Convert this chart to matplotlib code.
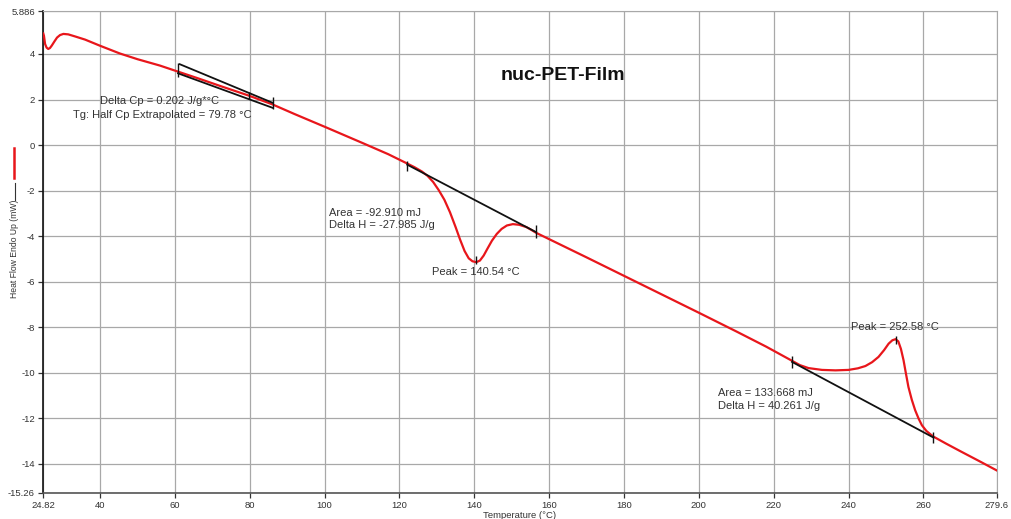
import matplotlib.pyplot as plt
from matplotlib.lines import Line2D

plt.rcParams['font.family'] = ['Liberation Sans', 'DejaVu Sans']

# DSC heating scan, nucleated PET film
temperature = [24.82, 25.0, 25.3, 25.7, 26.15, 26.6, 27.1, 27.8, 28.5, 29.3, 30.2,
               31.5, 33.5, 36, 40, 45.3, 50, 56, 60.9, 66, 72, 79.78, 86, 92,
               100.5, 110, 117, 121.7, 124, 126, 127.5, 129, 130.5, 132, 133.5,
               135, 136.2, 137.4, 138.5, 139.5, 140.54, 141.5, 142.5, 143.5,
               144.7, 146, 147.3, 148.7, 150.3, 152, 153.9, 155.2, 156.5, 160,
               170, 180, 190, 200, 210, 218, 224.9, 227, 229.3, 232.9, 236.5,
               240, 242.5, 244.5, 246.3, 248, 249.5, 250.7, 251.7, 252.58, 253.3,
               254, 254.7, 255.3, 256, 256.9, 257.8, 258.7, 259.6, 260.8, 262.2,
               262.7, 266, 270, 275, 279.57]
heat_flow = [4.90, 4.80, 4.44, 4.28, 4.22, 4.26, 4.37, 4.55, 4.72, 4.83, 4.88,
             4.86, 4.76, 4.63, 4.36, 4.02, 3.77, 3.49, 3.22, 2.94, 2.60, 2.17,
             1.79, 1.36, 0.77, 0.10, -0.40, -0.78, -0.97, -1.16, -1.35, -1.62,
             -1.98, -2.40, -2.95, -3.60, -4.15, -4.65, -4.97, -5.10, -5.14,
             -5.07, -4.85, -4.55, -4.20, -3.90, -3.68, -3.53, -3.47, -3.50,
             -3.60, -3.72, -3.85, -4.13, -4.93, -5.74, -6.55, -7.36, -8.18,
             -8.85, -9.47, -9.66, -9.79, -9.87, -9.89, -9.87, -9.80, -9.70,
             -9.53, -9.30, -9.00, -8.72, -8.57, -8.52, -8.62, -8.95, -9.45,
             -10.0, -10.62, -11.18, -11.64, -12.0, -12.3, -12.55, -12.74,
             -12.80, -13.10, -13.45, -13.88, -14.28]

# glass transition tangents and peak baselines
tg_upper_x = [61.3, 86.2]
tg_upper_y = [3.55, 1.85]
tg_lower_x = [60.82, 86.2]
tg_lower_y = [3.15, 1.63]
cold_base_x = [122.07, 156.5]
cold_base_y = [-0.86, -3.82]
melt_base_x = [224.9, 262.7]
melt_base_y = [-9.52, -12.84]

# limit markers (x, y_low, y_high)
marker_x = [60.82, 79.78, 86.2, 122.07, 156.5, 140.54, 224.9, 252.58, 262.7]
marker_lo = [2.97, 2.03, 1.59, -1.15, -4.07, -5.21, -9.77, -8.72, -13.1]
marker_hi = [3.62, 2.32, 2.10, -0.68, -3.53, -4.85, -9.28, -8.40, -12.6]

x_ticks = [24.82, 40, 60, 80, 100, 120, 140, 160, 180, 200, 220, 240, 260, 279.6]
x_labels = ['24.82', '40', '60', '80', '100', '120', '140', '160', '180', '200',
            '220', '240', '260', '279.6']
y_ticks = [-15.26, -14, -12, -10, -8, -6, -4, -2, 0, 2, 4, 5.886]
y_labels = ['-15.26', '-14', '-12', '-10', '-8', '-6', '-4', '-2', '0', '2', '4',
            '5.886']

fig = plt.figure(figsize=(10.11, 5.19), dpi=100)
ax = fig.add_axes([0.0428, 0.0507, 0.9431, 0.9281])

ax.plot(temperature, heat_flow, color='#e8161b', lw=1.6, zorder=3)
for xs, ys in [(tg_upper_x, tg_upper_y), (tg_lower_x, tg_lower_y),
               (cold_base_x, cold_base_y), (melt_base_x, melt_base_y)]:
    ax.plot(xs, ys, color='#111111', lw=1.3, zorder=4)
ax.vlines(marker_x, marker_lo, marker_hi, color='#111111', lw=1.0, zorder=5)

ax.set_xlim(24.82, 279.6)
ax.set_ylim(-15.26, 5.886)
ax.set_xticks(x_ticks)
ax.set_xticklabels(x_labels)
ax.set_yticks(y_ticks)
ax.set_yticklabels(y_labels)
ax.tick_params(labelsize=6.8, length=3.5, width=0.9, pad=2.5, colors='#333333')
ax.grid(True, color='#a8a8a8', lw=0.9)
ax.set_axisbelow(True)
for side in ['top', 'right']:
    ax.spines[side].set_color('#a8a8a8')
ax.spines['left'].set_color('#111111')
ax.spines['bottom'].set_color('#555555')
ax.spines['left'].set_linewidth(1.2)
ax.spines['bottom'].set_linewidth(1.2)

txt = dict(fontsize=8, color='#333333', zorder=6)
ax.text(163.7, 3.05, 'nuc-PET-Film', fontsize=14, fontweight='bold',
        ha='center', va='center', color='#111111')
ax.text(56.0, 1.95, 'Delta Cp = 0.202 J/g*°C', ha='center', va='center', **txt)
ax.text(56.5, 1.34, 'Tg: Half Cp Extrapolated = 79.78 °C', ha='center',
        va='center', **txt)
ax.text(101.3, -3.0, 'Area = -92.910 mJ', va='center', **txt)
ax.text(101.3, -3.49, 'Delta H = -27.985 J/g', va='center', **txt)
ax.text(128.7, -5.57, 'Peak = 140.54 °C', va='center', **txt)
ax.text(240.7, -8.0, 'Peak = 252.58 °C', va='center', **txt)
ax.text(205.2, -10.9, 'Area = 133.668 mJ', va='center', **txt)
ax.text(205.2, -11.47, 'Delta H = 40.261 J/g', va='center', **txt)

# axis titles and the little curve key beside the y title
fig.text(520 / 1011, 1 - 515 / 519, 'Temperature (°C)', fontsize=6.8,
         ha='center', va='center', color='#333333')
fig.text(15 / 1011, 1 - 249 / 519, 'Heat Flow Endo Up (mW)', fontsize=6.2,
         rotation=90, ha='center', va='center', color='#333333')
fig.add_artist(Line2D([14 / 1011, 14 / 1011], [1 - 148 / 519, 1 - 178 / 519],
                      color='#e8161b', lw=1.8))
fig.add_artist(Line2D([15 / 1011, 15 / 1011], [1 - 183 / 519, 1 - 200 / 519],
                      color='#333333', lw=0.8))

fig.savefig('out.png', dpi=100)
